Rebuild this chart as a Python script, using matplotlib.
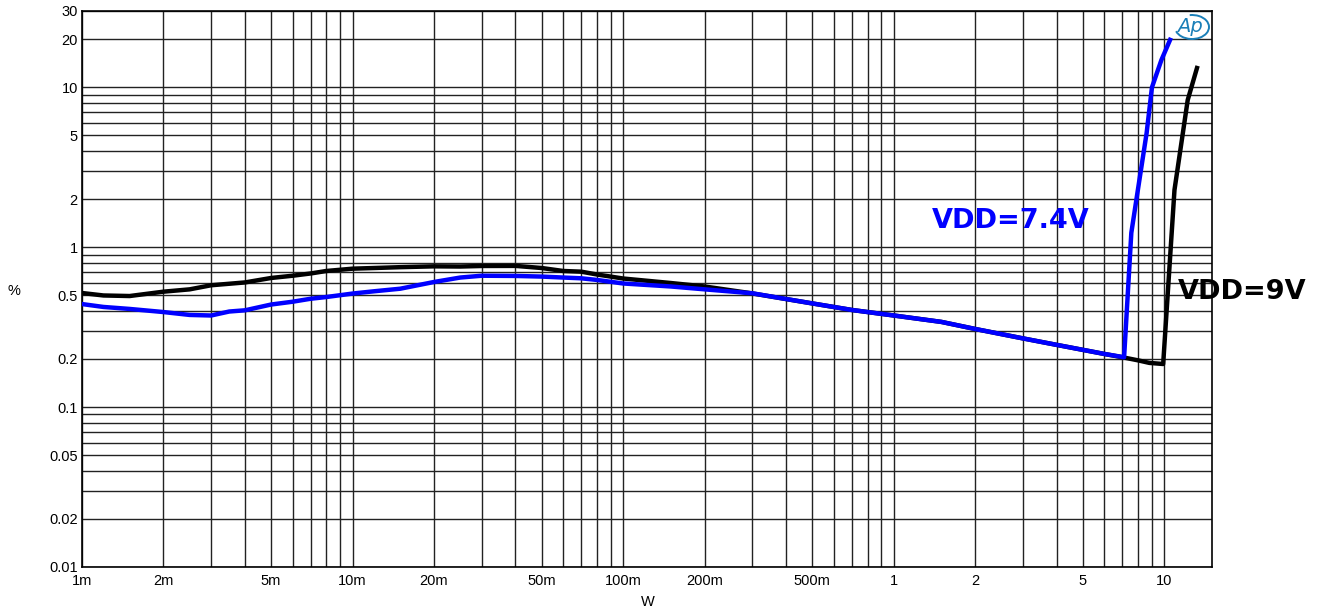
import numpy as np
import matplotlib
matplotlib.use("Agg")
import matplotlib.pyplot as plt
from matplotlib.ticker import FixedLocator, NullFormatter
from matplotlib.patches import Arc

# VDD = 9V (black)
x_9v = [0.001, 0.0012, 0.0015, 0.002, 0.0025, 0.003, 0.004, 0.005, 0.006, 0.007,
        0.008, 0.01, 0.012, 0.015, 0.02, 0.025, 0.03, 0.04, 0.05, 0.06, 0.07, 0.08,
        0.1, 0.15, 0.2, 0.3, 0.5, 0.7, 1, 1.5, 2, 3, 4, 5, 6, 7, 8, 8.8, 9.9,
        10.9, 12.2, 13.2]
y_9v = [0.517, 0.499, 0.495, 0.527, 0.545, 0.578, 0.602, 0.642, 0.663, 0.685,
        0.710, 0.734, 0.741, 0.750, 0.759, 0.757, 0.763, 0.764, 0.741, 0.710, 0.703, 0.675,
        0.637, 0.597, 0.568, 0.514, 0.445, 0.405, 0.374, 0.341, 0.308, 0.269, 0.245, 0.228,
        0.215, 0.205, 0.196, 0.189, 0.186,
        2.28, 8.33, 13.2]

# VDD = 7.4V (blue)
x_74v = [0.001, 0.0012, 0.0015, 0.002, 0.0025, 0.003, 0.0035, 0.004, 0.005, 0.006,
         0.007, 0.008, 0.01, 0.012, 0.015, 0.02, 0.025, 0.03, 0.04, 0.05, 0.06, 0.07,
         0.08, 0.1, 0.15, 0.2, 0.3, 0.5, 0.7, 1, 1.5, 2, 3, 4, 5, 6, 7.1,
         7.55, 7.95, 8.6, 9.0, 9.75, 10.5]
y_74v = [0.441, 0.423, 0.411, 0.393, 0.377, 0.374, 0.396, 0.403, 0.438, 0.456,
         0.476, 0.488, 0.513, 0.530, 0.550, 0.606, 0.646, 0.663, 0.661, 0.655, 0.646, 0.639,
         0.624, 0.593, 0.568, 0.545, 0.515, 0.445, 0.405, 0.374, 0.341, 0.308, 0.269,
         0.245, 0.228, 0.215, 0.205,
         1.23, 2.18, 5.18, 10.0, 14.8, 19.8]

x_ticks = [0.001, 0.002, 0.005, 0.01, 0.02, 0.05, 0.1, 0.2, 0.5, 1, 2, 5, 10]
x_labels = ['1m', '2m', '5m', '10m', '20m', '50m', '100m', '200m', '500m', '1', '2', '5', '10']
y_ticks = [0.01, 0.02, 0.05, 0.1, 0.2, 0.5, 1, 2, 5, 10, 20, 30]
y_labels = ['0.01', '0.02', '0.05', '0.1', '0.2', '0.5', '1', '2', '5', '10', '20', '30']

TICKFONT = {'family': 'Liberation Sans', 'size': 10.5}

fig = plt.figure(figsize=(13.27, 6.10), dpi=100)
ax = fig.add_axes([82/1327, 1 - 567/610, (1212-82)/1327, (567-11)/610])
ax.set_xscale('log')
ax.set_yscale('log')
ax.set_xlim(0.001, 15)
ax.set_ylim(0.01, 30)

# grid lines at every 1..9 step of each decade
xgrid = [m * 10.0**e for e in range(-3, 2) for m in range(1, 10)]
ygrid = [m * 10.0**e for e in range(-2, 2) for m in range(1, 10)] + [20]
ax.xaxis.set_major_locator(FixedLocator(x_ticks))
ax.yaxis.set_major_locator(FixedLocator(y_ticks))
ax.xaxis.set_minor_locator(FixedLocator(xgrid))
ax.yaxis.set_minor_locator(FixedLocator(ygrid))
ax.xaxis.set_minor_formatter(NullFormatter())
ax.yaxis.set_minor_formatter(NullFormatter())
ax.set_xticklabels(x_labels, fontdict=TICKFONT)
ax.set_yticklabels(y_labels, fontdict=TICKFONT)
ax.tick_params(which='both', length=0)
ax.tick_params(axis='x', pad=5)
ax.tick_params(axis='y', pad=3)
ax.grid(True, which='both', color='#222222', linewidth=1.0)
for s in ax.spines.values():
    s.set_color('black')
    s.set_linewidth(1.2)

ax.plot(x_9v, y_9v, color='black', linewidth=3.2, solid_joinstyle='round', zorder=3)
ax.plot(x_74v, y_74v, color='#0000ff', linewidth=3.2, solid_joinstyle='round', zorder=4)

ax.text(2.7, 1.46, 'VDD=7.4V', color='#0000ff', fontsize=19.5, fontweight='bold',
        family='DejaVu Sans', ha='center', va='center', zorder=5)
ax.text(19.4, 0.525, 'VDD=9V', color='black', fontsize=19.5, fontweight='bold',
        family='DejaVu Sans', ha='center', va='center', clip_on=False, zorder=5)

fig.text(14/1327, 1 - 291/610, '%', fontdict=TICKFONT, ha='center', va='center')
fig.text(648/1327, 1 - 602/610, 'W', fontdict=TICKFONT, ha='center', va='center')

# Ap logo
logo_color = '#1a7fb8'
fig.text(1190/1327, 1 - 27/610, 'Ap', color=logo_color, fontsize=14, style='italic',
         family='DejaVu Sans', ha='center', va='center')
fig.add_artist(Arc((1192/1327, 1 - 27/610), 34/1327, 24/610, theta1=-150, theta2=95,
                   transform=fig.transFigure, color=logo_color, linewidth=1.4))

fig.savefig('out.png', dpi=100)
